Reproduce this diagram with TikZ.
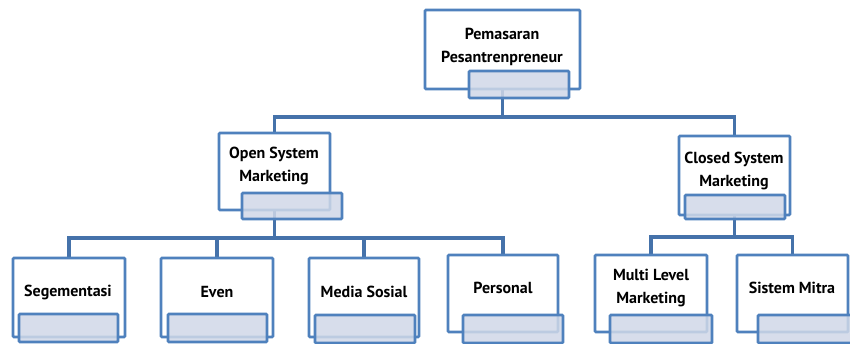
\documentclass[tikz,border=0pt]{standalone}
\usepackage{fontspec}
\setmainfont{PT Sans}
\usetikzlibrary{backgrounds}
\definecolor{edge}{HTML}{4F81BD}
\definecolor{wire}{HTML}{4572AA}
\definecolor{tabfill}{HTML}{D0D8E8}
\tikzset{
  x=1pt, y=-1pt,
  card/.style={draw=edge, line width=2.8pt, fill=white, inner sep=0pt, rounded corners=1pt},
  tab/.style={draw=edge, line width=2.8pt, fill=tabfill, fill opacity=0.85, inner sep=0pt, rounded corners=1pt},
  caption/.style={font=\bfseries\fontsize{16}{23}\selectfont, align=center, text=black, inner sep=0pt},
  conn/.style={draw=wire, line width=3.2pt},
}
% a card: white box from (x1,y1) to (x2,y2), tab from (x3,y3) to (x4,y4)
\newcommand{\card}[9]{%
  \node[card, minimum width={#4-#2}, minimum height={#5-#3}] (#1) at ({(#2+#4)/2},{(#3+#5)/2}) {};
  \node[tab, minimum width={#8-#6}, minimum height={#9-#7}] (#1-tab) at ({(#6+#8)/2},{(#7+#9)/2}) {};
}
\begin{document}
\begin{tikzpicture}
\useasboundingbox (0,0) rectangle (850,343);

% level 0
\card{top}{425}{10}{580}{89}{469}{71}{569}{98}
\node[caption] (top-txt) at (502,47) {Pemasaran\\Pesantrenpreneur};

% level 1
\card{osm}{219}{133}{330}{210}{242}{193}{342}{219}
\node[caption] (osm-txt) at (274,166) {Open System\\Marketing};
\card{csm}{679}{136}{790}{215}{685}{195}{785}{219}
\node[caption] (csm-txt) at (734,171) {Closed System\\Marketing};

% level 2
\card{seg}{13}{258}{125}{337}{19}{314}{118}{342}
\node[caption] (seg-txt) at (68,292) {Segementasi};
\card{even}{161}{258}{273}{337}{168}{314}{267}{342}
\node[caption] (even-txt) at (217,292) {Even};
\card{media}{309}{258}{419}{337}{315}{315}{415}{343}
\node[caption] (media-txt) at (364,292) {Media Sosial};
\card{pers}{448}{255}{558}{332}{463}{315}{563}{343}
\node[caption] (pers-txt) at (503,288) {Personal};
\card{mlm}{595}{255}{707}{332}{610}{315}{712}{343}
\node[caption] (mlm-txt) at (651,288) {Multi Level\\Marketing};
\card{mitra}{737}{255}{848}{332}{758}{315}{858}{343}
\node[caption] (mitra-txt) at (792,288) {Sistem Mitra};

% bus levels
\coordinate (busA) at (0,117);
\coordinate (busB) at (0,238);
\coordinate (busC) at (0,237);

\begin{scope}[on background layer]
  \fill[white] (0,0) rectangle (850,343);
  \draw[conn] (top.center) -- (top.center |- busA) -| (osm.north);
  \draw[conn] (top.center |- busA) -| (csm.north);
  \draw[conn] (osm.center) -- (osm.center |- busB) -| (seg.north);
  \draw[conn] (osm.center |- busB) -| (even.north);
  \draw[conn, line width=4.5pt] (osm.center |- busB) -| (media.north);
  \draw[conn] (osm.center |- busB) -| (pers.north);
  \draw[conn] (csm.center) -- (csm.center |- busC) -| (mlm.north);
  \draw[conn] (csm.center |- busC) -| (mitra.north);
\end{scope}
\end{tikzpicture}
\end{document}
